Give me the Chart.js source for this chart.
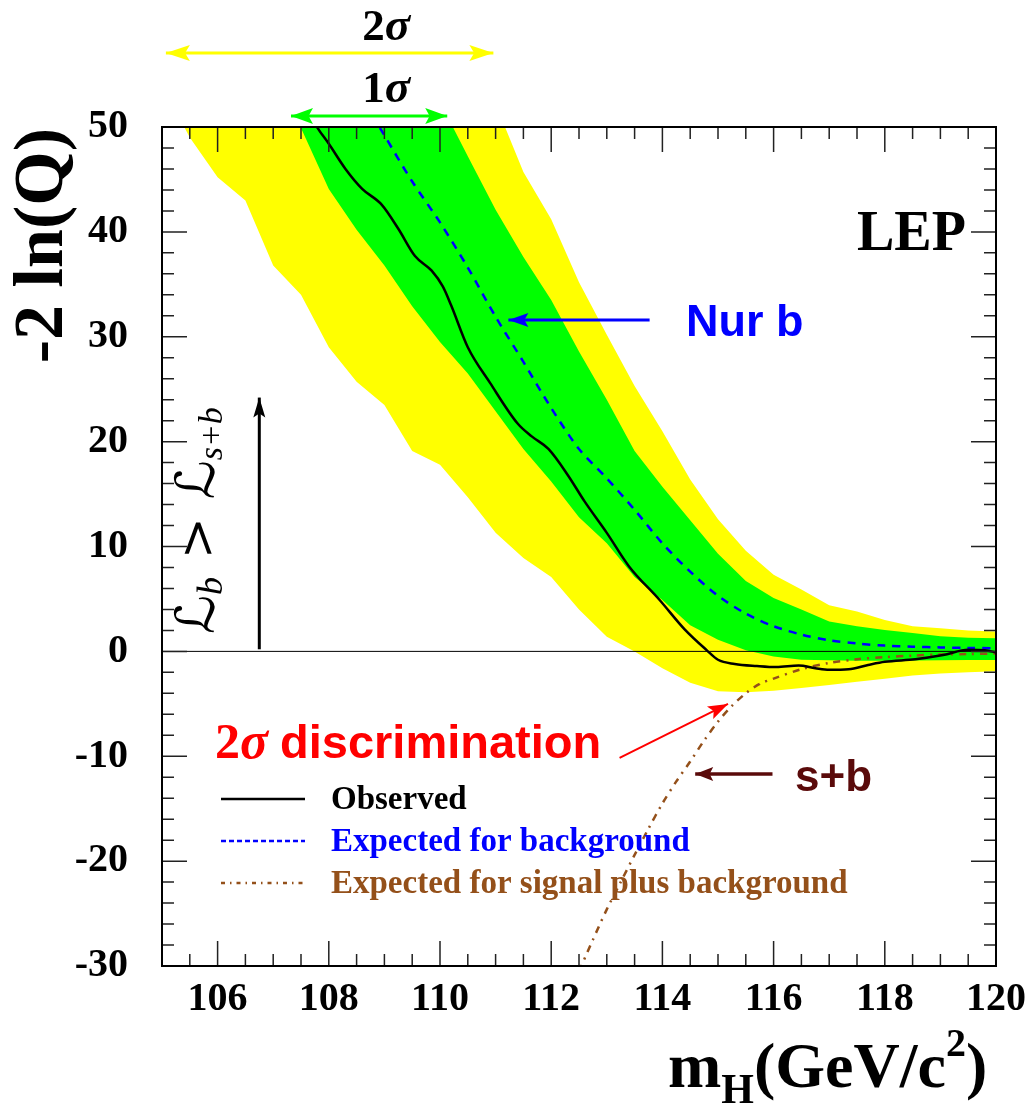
<!DOCTYPE html>
<html>
<head>
<meta charset="utf-8">
<script src="https://cdn.jsdelivr.net/npm/chart.js@4.4.1/dist/chart.umd.min.js"></script>
<style>
  html, body { margin: 0; padding: 0; background: #fff; }
  #wrap { width: 1036px; height: 1115px; }
</style>
</head>
<body>
<div id="wrap"><canvas id="lep" width="1036" height="1115"></canvas></div>
<script>
// Higgs mass grid of the expectation bands (GeV/c^2)
const bandMass = [105, 105.5, 106, 106.5, 107, 107.5, 108, 108.5, 109, 109.5, 110, 110.5, 111, 111.5,
  112, 112.5, 113, 113.5, 114, 114.5, 115, 115.5, 116, 116.5, 117, 117.5, 118, 118.5, 119, 119.5, 120];
// 2 sigma band (yellow) and 1 sigma band (green) around the background expectation
const yellowLow = [54, 49.0, 45.2, 43.0, 36.8, 34.0, 29.0, 25.7, 23.5, 19.1, 17.8, 14.7, 11.3, 8.9,
  7.1, 4.0, 1.4, 0.0, -1.6, -3.0, -3.8, -3.9, -3.75, -3.5, -3.2, -2.9, -2.6, -2.3, -2.1, -2.0, -1.9];
const yellowHigh = [100, 95, 90, 86, 82, 78, 74, 70, 66, 62, 58, 55, 52.2, 45.7,
  41.2, 35.2, 30.2, 25.3, 21.0, 16.4, 12.6, 9.6, 7.3, 5.9, 4.4, 3.8, 3.0, 2.4, 2.2, 2.0, 1.9];
const greenLow = [75, 71, 67, 62, 56, 49.9, 44.1, 40.2, 36.8, 32.9, 29.5, 26.5, 22.9, 19.3,
  16.2, 12.8, 10.3, 7.1, 4.9, 2.5, 1.1, 0.1, -0.5, -0.8, -0.85, -0.9, -0.9, -0.88, -0.85, -0.83, -0.82];
const greenHigh = [90, 86, 82, 78, 74, 70, 66, 62, 58, 55, 52.4, 47.2, 42.1, 37.6,
  33.5, 28.6, 24.0, 19.1, 15.7, 12.5, 9.3, 6.7, 5.1, 4.0, 2.85, 2.4, 2.05, 1.75, 1.45, 1.3, 1.25];

// expected for background only
const bkgMass = [108.5, 109, 109.5, 110, 110.5, 111, 111.5, 112, 112.5, 113, 113.5, 114, 114.5, 115,
  115.5, 116, 116.5, 117, 117.5, 118, 118.5, 119, 119.5, 120];
const expBkg = [53.6, 49.2, 44.8, 40.9, 36.6, 31.9, 27.6, 23.2, 19.3, 16.5, 13.5, 10.3, 7.6, 5.3,
  3.6, 2.4, 1.6, 1.05, 0.75, 0.55, 0.45, 0.38, 0.33, 0.3];

// observed -2 ln(Q)
const obsMass = [107.6, 107.8, 108.0, 108.3, 108.6, 108.95, 109.25, 109.55, 109.85, 110.05, 110.2, 110.5,
  110.9, 111.4, 111.65, 111.95, 112.3, 112.6, 113.0, 113.4, 113.95, 114.4, 114.8, 115.0, 115.3, 115.7,
  116.05, 116.45, 116.75, 117.0, 117.35, 117.7, 118.0, 118.55, 119.05, 119.5, 119.8, 120.0];
const obs = [51.8, 49.9, 48.4, 46.0, 44.1, 42.6, 40.3, 37.7, 36.3, 34.8, 33.0, 29.0,
  25.6, 21.7, 20.5, 19.3, 16.8, 14.3, 11.3, 8.1, 4.9, 2.1, 0.1, -0.8, -1.2, -1.4,
  -1.5, -1.35, -1.6, -1.75, -1.7, -1.3, -1.0, -0.75, -0.35, 0.15, 0.1, -0.1];

// expected for signal plus background
const sbMass = [112.5, 112.75, 113, 113.25, 113.5, 113.75, 114, 114.25, 114.5, 114.75, 115, 115.25,
  115.5, 115.75, 116, 116.5, 117, 117.5, 118, 118.5, 119, 119.5, 120];
const expSb = [-30.5, -27.5, -24.6, -22.0, -19.4, -16.9, -14.5, -12.4, -10.5, -8.5, -6.7, -5.2,
  -4.0, -3.1, -2.6, -1.7, -1.1, -0.75, -0.55, -0.4, -0.3, -0.25, -0.2];

const xTicks = [106, 108, 110, 112, 114, 116, 118, 120];
const yTicks = [-30, -20, -10, 0, 10, 20, 30, 40, 50];

const SERIF = '"Liberation Serif", "Times New Roman", serif';
const SANS = '"Liberation Sans", Arial, sans-serif';
const BROWN = '#94501a';

const pts = (xs, ys) => xs.map((m, i) => ({ x: m, y: ys[i] }));

function arrow(ctx, x1, y1, x2, y2, color, lw, hl, hw, twoHeads) {
  const ang = Math.atan2(y2 - y1, x2 - x1);
  ctx.strokeStyle = color;
  ctx.fillStyle = color;
  ctx.lineWidth = lw;
  ctx.setLineDash([]);
  ctx.beginPath();
  ctx.moveTo(x1, y1);
  ctx.lineTo(x2, y2);
  ctx.stroke();
  const head = (tx, ty, a) => {
    ctx.beginPath();
    ctx.moveTo(tx, ty);
    ctx.lineTo(tx - hl * Math.cos(a) + hw * Math.sin(a), ty - hl * Math.sin(a) - hw * Math.cos(a));
    ctx.lineTo(tx - hl * 0.8 * Math.cos(a), ty - hl * 0.8 * Math.sin(a));
    ctx.lineTo(tx - hl * Math.cos(a) - hw * Math.sin(a), ty - hl * Math.sin(a) + hw * Math.cos(a));
    ctx.closePath();
    ctx.fill();
  };
  head(x2, y2, ang);
  if (twoHeads) head(x1, y1, ang + Math.PI);
}

// draw a row of text pieces with their own fonts and baseline shifts
function runs(ctx, list, x, y) {
  let cx = x;
  list.forEach(r => {
    ctx.font = r.font;
    ctx.fillText(r.text, cx, y + (r.dy || 0));
    cx += ctx.measureText(r.text).width + (r.gap || 0);
  });
  return cx;
}

const lepDecor = {
  id: 'lepDecor',
  afterDraw(chart) {
    const { ctx, chartArea: a, scales } = chart;
    const px = v => scales.x.getPixelForValue(v);
    const py = v => scales.y.getPixelForValue(v);
    ctx.save();

    // zero line
    ctx.strokeStyle = '#000';
    ctx.lineWidth = 1;
    ctx.beginPath();
    ctx.moveTo(a.left, py(0));
    ctx.lineTo(a.right, py(0));
    ctx.stroke();

    // inner ticks on the four sides
    ctx.strokeStyle = '#222';
    ctx.lineWidth = 1.5;
    for (let i = 1; i < 30; i++) {
      const v = 105 + i * 0.5;
      const len = v % 2 === 0 ? 25 : 12;
      const x = px(v);
      ctx.beginPath();
      ctx.moveTo(x, a.bottom); ctx.lineTo(x, a.bottom - len);
      ctx.moveTo(x, a.top); ctx.lineTo(x, a.top + len);
      ctx.stroke();
    }
    for (let v = -28; v < 50; v += 2) {
      const len = v % 10 === 0 ? 25 : 12;
      const y = py(v);
      ctx.beginPath();
      ctx.moveTo(a.left, y); ctx.lineTo(a.left + len, y);
      ctx.moveTo(a.right, y); ctx.lineTo(a.right - len, y);
      ctx.stroke();
    }
    ctx.lineWidth = 2;
    ctx.strokeStyle = '#000';
    ctx.strokeRect(a.left, a.top, a.right - a.left, a.bottom - a.top);

    // sigma arrows above the frame
    arrow(ctx, px(105.07), 53, px(110.96), 53, '#ffff00', 3, 24, 8, true);
    arrow(ctx, px(107.32), 116, px(110.13), 116, '#00ff00', 3, 22, 8, true);
    ctx.fillStyle = '#000';
    ctx.textBaseline = 'alphabetic';
    ctx.textAlign = 'left';
    runs(ctx, [{ text: '2', font: 'bold 45px ' + SERIF }, { text: 'σ', font: 'italic bold 47px ' + SERIF }], px(108.6), 40);
    runs(ctx, [{ text: '1', font: 'bold 45px ' + SERIF }, { text: 'σ', font: 'italic bold 47px ' + SERIF }], px(108.6), 102);

    // LEP label
    ctx.font = 'bold 56px ' + SERIF;
    ctx.fillText('LEP', 857, 250);

    // Nur b
    arrow(ctx, px(113.77), py(31.6), px(111.23), py(31.6), '#0000ff', 3, 20, 7, false);
    ctx.fillStyle = '#0000ff';
    ctx.font = 'bold 45px ' + SANS;
    ctx.fillText('Nur b', 686, 336);

    // 2 sigma discrimination
    arrow(ctx, px(113.23), py(-10.16), px(115.18), py(-5.01), '#ff0000', 2, 20, 7, false);
    ctx.fillStyle = '#ff0000';
    runs(ctx, [
      { text: '2', font: 'bold 50px ' + SERIF },
      { text: 'σ', font: 'italic bold 52px ' + SERIF, gap: 12 },
      { text: 'discrimination', font: 'bold 47px ' + SANS }
    ], 215, 758);

    // s+b
    arrow(ctx, px(115.98), py(-11.69), px(114.59), py(-11.69), '#5a0a0a', 3.5, 18, 7, false);
    ctx.fillStyle = '#5a0a0a';
    ctx.font = 'bold 44px ' + SANS;
    ctx.fillText('s+b', 795, 791);

    // L_b > L_s+b with upward arrow
    arrow(ctx, px(106.75), py(0.2), px(106.75), py(24.2), '#000', 3, 20, 6, false);
    ctx.save();
    ctx.translate(214, 634);
    ctx.rotate(-Math.PI / 2);
    ctx.fillStyle = '#000';
    const LF = '"DejaVu Serif", "DejaVu Sans", serif';
    runs(ctx, [
      { text: 'ℒ', font: 'italic 54px ' + LF },
      { text: 'b', font: 'italic 36px ' + SERIF, dy: 8, gap: 18 },
      { text: '>', font: '50px ' + LF, gap: 18 },
      { text: 'ℒ', font: 'italic 54px ' + LF },
      { text: 's+b', font: 'italic 34px ' + SERIF, dy: 8 }
    ], 0, 0);
    ctx.restore();

    // legend
    const legend = [
      { label: 'Observed', color: '#000', text: '#000', dash: [] },
      { label: 'Expected for background', color: '#0000ff', text: '#0000ff', dash: [5, 3] },
      { label: 'Expected for signal plus background', color: BROWN, text: BROWN, dash: [4, 5, 1.5, 5] }
    ];
    legend.forEach((row, i) => {
      const y = 799 + i * 42;
      ctx.strokeStyle = row.color;
      ctx.lineWidth = 2.5;
      ctx.setLineDash(row.dash);
      ctx.beginPath();
      ctx.moveTo(221, y); ctx.lineTo(305, y);
      ctx.stroke();
      ctx.setLineDash([]);
      ctx.fillStyle = row.text;
      ctx.font = 'bold 33px ' + SERIF;
      ctx.textBaseline = 'middle';
      ctx.fillText(row.label, 331, y + 1);
      ctx.textBaseline = 'alphabetic';
    });

    // axis titles
    ctx.fillStyle = '#000';
    ctx.save();
    ctx.translate(62, 128);
    ctx.rotate(-Math.PI / 2);
    ctx.textAlign = 'right';
    ctx.font = 'bold 70px ' + SERIF;
    ctx.fillText('-2 ln(Q)', 0, 0);
    ctx.restore();

    runs(ctx, [
      { text: 'm', font: 'bold 64px ' + SERIF },
      { text: 'H', font: 'bold 42px ' + SERIF, dy: 16 },
      { text: '(GeV/c', font: 'bold 64px ' + SERIF },
      { text: '2', font: 'bold 40px ' + SERIF, dy: -31 },
      { text: ')', font: 'bold 64px ' + SERIF }
    ], 668, 1087);

    ctx.restore();
  }
};

Chart.defaults.font.family = SERIF;

new Chart(document.getElementById('lep'), {
  type: 'line',
  data: {
    datasets: [
      { label: 'Observed', data: pts(obsMass, obs), borderColor: '#000', borderWidth: 2.5,
        pointRadius: 0, fill: false, cubicInterpolationMode: 'monotone', order: 1 },
      { label: 'Expected for background', data: pts(bkgMass, expBkg), borderColor: '#0000ff', borderWidth: 2.5,
        borderDash: [8, 7], pointRadius: 0, fill: false, tension: 0.3, order: 2 },
      { label: 'Expected for signal plus background', data: pts(sbMass, expSb), borderColor: BROWN, borderWidth: 2.5,
        borderDash: [7, 6, 2, 6], pointRadius: 0, fill: false, tension: 0.3, order: 3 },
      { label: '1 sigma high', data: pts(bandMass, greenHigh), borderColor: 'rgba(0,0,0,0)', borderWidth: 1,
        pointRadius: 0, fill: '+1', backgroundColor: '#00ff00', order: 4 },
      { label: '1 sigma low', data: pts(bandMass, greenLow), borderColor: 'rgba(0,0,0,0)', borderWidth: 1,
        pointRadius: 0, fill: false, order: 5 },
      { label: '2 sigma high', data: pts(bandMass, yellowHigh), borderColor: 'rgba(0,0,0,0)', borderWidth: 1,
        pointRadius: 0, fill: '+1', backgroundColor: '#ffff00', order: 6 },
      { label: '2 sigma low', data: pts(bandMass, yellowLow), borderColor: 'rgba(0,0,0,0)', borderWidth: 1,
        pointRadius: 0, fill: false, order: 7 }
    ]
  },
  options: {
    responsive: false,
    animation: false,
    events: [],
    layout: { padding: { left: 0, right: 34, top: 127, bottom: 0 } },
    plugins: { legend: { display: false }, tooltip: { enabled: false } },
    scales: {
      x: {
        type: 'linear', min: 105, max: 120,
        afterBuildTicks: s => { s.ticks = xTicks.map(v => ({ value: v })); },
        afterFit: s => { s.height = 149; },
        grid: { display: false, drawTicks: false },
        border: { display: false },
        ticks: { color: '#000', padding: 10, font: { family: SERIF, size: 40, weight: 'bold' } }
      },
      y: {
        type: 'linear', min: -30, max: 50,
        afterBuildTicks: s => { s.ticks = yTicks.map(v => ({ value: v })); },
        afterFit: s => { s.width = 162; },
        grid: { display: false, drawTicks: false },
        border: { display: false },
        ticks: { color: '#000', padding: 34, font: { family: SERIF, size: 40, weight: 'bold' } }
      }
    }
  },
  plugins: [lepDecor]
});
</script>
</body>
</html>
